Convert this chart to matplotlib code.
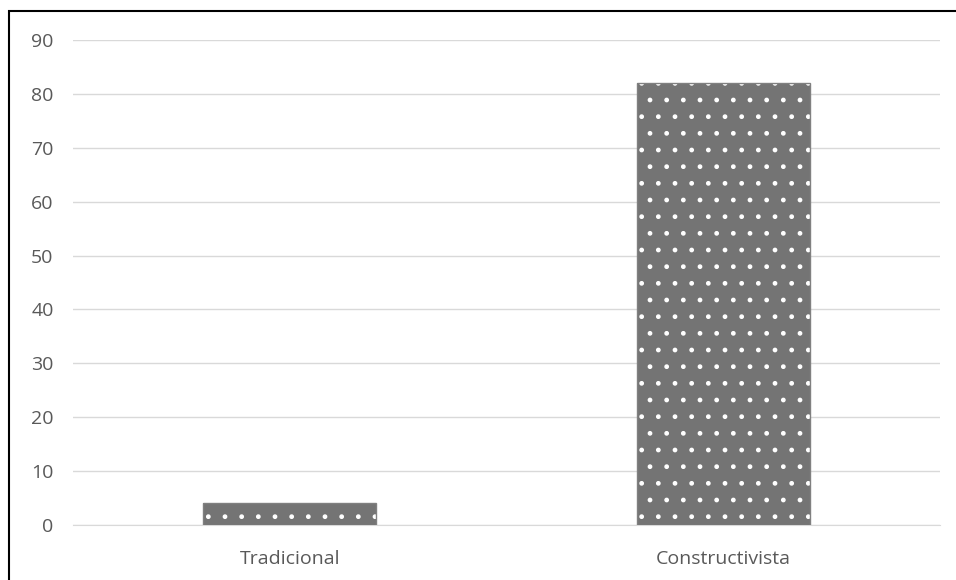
import numpy as np
import matplotlib.pyplot as plt
import matplotlib.patches as mpatches

categories = ['Tradicional', 'Constructivista']
values = [4, 82]
y_ticks = [0, 10, 20, 30, 40, 50, 60, 70, 80, 90]

plt.rcParams['font.family'] = ['Open Sans', 'DejaVu Sans']
plt.rcParams['hatch.linewidth'] = 1.0

fig = plt.figure(figsize=(9.56, 5.8), dpi=100)
ax = fig.add_axes([73 / 956, 1 - 525 / 580, 867 / 956, 485 / 580])

x = np.arange(len(categories))
# patterned fill: gray with white dots
ax.bar(x, values, width=0.4, color='#747474', edgecolor='white', hatch='.', linewidth=0, zorder=3)
ax.bar(x, values, width=0.4, fill=False, edgecolor='#808080', linewidth=1, zorder=4)

ax.set_xlim(-0.5, 1.5)
ax.set_ylim(0, 90)
ax.set_yticks(y_ticks)
ax.set_xticks(x)
ax.set_xticklabels(categories)
ax.tick_params(axis='both', length=0, labelsize=14, colors='#595959')
ax.tick_params(axis='y', pad=14)
ax.tick_params(axis='x', pad=18)
ax.grid(axis='y', color='#d9d9d9', linewidth=1, zorder=0)
for side in ['top', 'right', 'left']:
    ax.spines[side].set_visible(False)
ax.spines['bottom'].set_color('#d9d9d9')

# outer frame of the picture
frame = mpatches.Rectangle((9 / 956, -0.1), 1.2, 1 - 11 / 580 + 0.1, transform=fig.transFigure,
                           fill=False, edgecolor='black', linewidth=1.5)
fig.patches.append(frame)

fig.savefig('out.png', dpi=100)
